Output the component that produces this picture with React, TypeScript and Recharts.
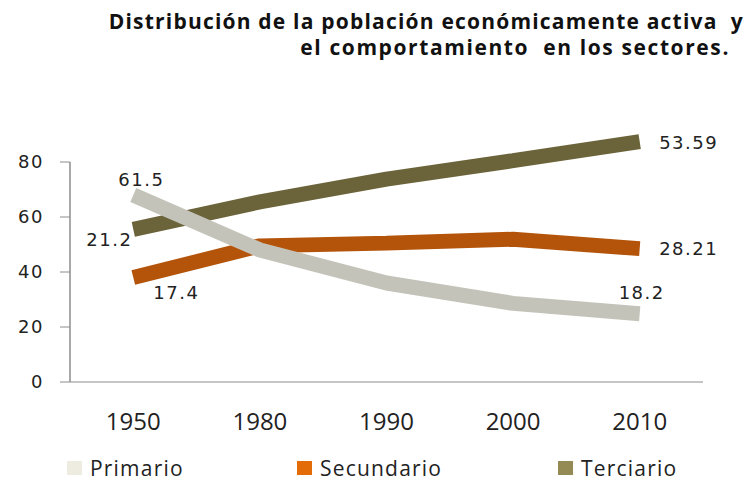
import { LineChart, Line, XAxis, YAxis, ReferenceLine, LabelList } from "recharts";

const years = ["1950", "1980", "1990", "2000", "2010"];
const primario = [68, 48, 36, 28.6, 24.8];
const secundario = [38, 49.5, 50.5, 51.9, 48.5];
const terciario = [55.5, 65.5, 73.8, 80.5, 87.4];

// printed labels (only first and last point carry one)
const primarioLabels = ["61.5", "", "", "", "18.2"];
const secundarioLabels = ["17.4", "", "", "", "28.21"];
const terciarioLabels = ["21.2", "", "", "", "53.59"];

const yTicks = [0, 20, 40, 60, 80];

const data = years.map((y, i) => ({
  idx: i,
  year: y,
  primario: primario[i],
  secundario: secundario[i],
  terciario: terciario[i],
}));

const labelFont = "'DejaVu Sans', Verdana, sans-serif";

function pointLabel(texts: string[], first: [number, number], last: [number, number]) {
  return (props: any) => {
    const { x, y, index } = props;
    const t = texts[index];
    if (!t) return null;
    const [dx, dy] = index === 0 ? first : last;
    return (
      <text
        x={x + dx}
        y={y + dy}
        dy="0.36em"
        textAnchor="middle"
        fontFamily={labelFont}
        fontSize={18}
        letterSpacing={1.5}
        fill="#222"
      >
        {t}
      </text>
    );
  };
}

const legendItems = [
  { name: "Primario", color: "#eeece1", left: 67 },
  { name: "Secundario", color: "#e36c09", left: 297 },
  { name: "Terciario", color: "#948a54", left: 558 },
];

const titleStyle = {
  position: "absolute" as const,
  fontFamily: "'Open Sans', sans-serif",
  fontWeight: 700,
  fontSize: 21,
  color: "#111",
  whiteSpace: "pre" as const,
  lineHeight: "21px",
};

export default function App() {
  return (
    <div style={{ position: "absolute", left: 0, top: 0, width: 748, height: 483, background: "#fff" }}>
      <div style={{ ...titleStyle, right: 4, top: 11, letterSpacing: 1.2 }}>
        Distribución de la población económicamente activa  y
      </div>
      <div style={{ ...titleStyle, right: 18, top: 37, letterSpacing: 1.6 }}>
        el comportamiento  en los sectores.
      </div>

      <LineChart width={748} height={483} data={data} margin={{ top: 107, right: 45, bottom: 0, left: 0 }}>
        <XAxis
          dataKey="idx"
          type="number"
          domain={[-0.5, 4.5]}
          ticks={[0, 1, 2, 3, 4]}
          tickFormatter={(v: number) => years[v]}
          height={101}
          stroke="#8c8c8c"
          tickLine={false}
          tickSize={0}
          tickMargin={31}
          tick={{ fontFamily: "'Open Sans', sans-serif", fontSize: 24, fill: "#222" }}
        />
        <YAxis
          type="number"
          domain={[0, 100]}
          ticks={yTicks}
          width={70}
          axisLine={false}
          tickLine={{ stroke: "#8c8c8c" }}
          tickSize={10}
          tickMargin={16}
          tick={{ fontFamily: labelFont, fontSize: 18, fill: "#222", letterSpacing: 1.5 }}
        />
        <ReferenceLine
          segment={[
            { x: -0.5, y: 0 },
            { x: -0.5, y: 80 },
          ]}
          stroke="#8c8c8c"
          strokeWidth={1.5}
        />
        <Line
          dataKey="terciario"
          stroke="#6b633a"
          strokeWidth={15}
          strokeLinecap="butt"
          strokeLinejoin="bevel"
          dot={false}
          isAnimationActive={false}
        >
          <LabelList dataKey="terciario" content={pointLabel(terciarioLabels, [-24, 10], [49, 1])} />
        </Line>
        <Line
          dataKey="secundario"
          stroke="#b3540a"
          strokeWidth={15}
          strokeLinecap="butt"
          strokeLinejoin="bevel"
          dot={false}
          isAnimationActive={false}
        >
          <LabelList dataKey="secundario" content={pointLabel(secundarioLabels, [43, 15], [49, 0])} />
        </Line>
        <Line
          dataKey="primario"
          stroke="#c4c3ba"
          strokeWidth={15}
          strokeLinecap="butt"
          strokeLinejoin="bevel"
          dot={false}
          isAnimationActive={false}
        >
          <LabelList dataKey="primario" content={pointLabel(primarioLabels, [8, -15], [2, -21])} />
        </Line>
      </LineChart>

      {legendItems.map((it) => (
        <div
          key={it.name}
          style={{
            position: "absolute",
            left: it.left,
            top: 455,
            height: 26,
            lineHeight: "26px",
            display: "flex",
            alignItems: "center",
            fontFamily: "'Open Sans', sans-serif",
            fontSize: 21,
            color: "#222",
            letterSpacing: 1.2,
          }}
        >
          <span style={{ display: "inline-block", width: 15, height: 14, background: it.color, marginRight: 8 }} />
          {it.name}
        </div>
      ))}
    </div>
  );
}
